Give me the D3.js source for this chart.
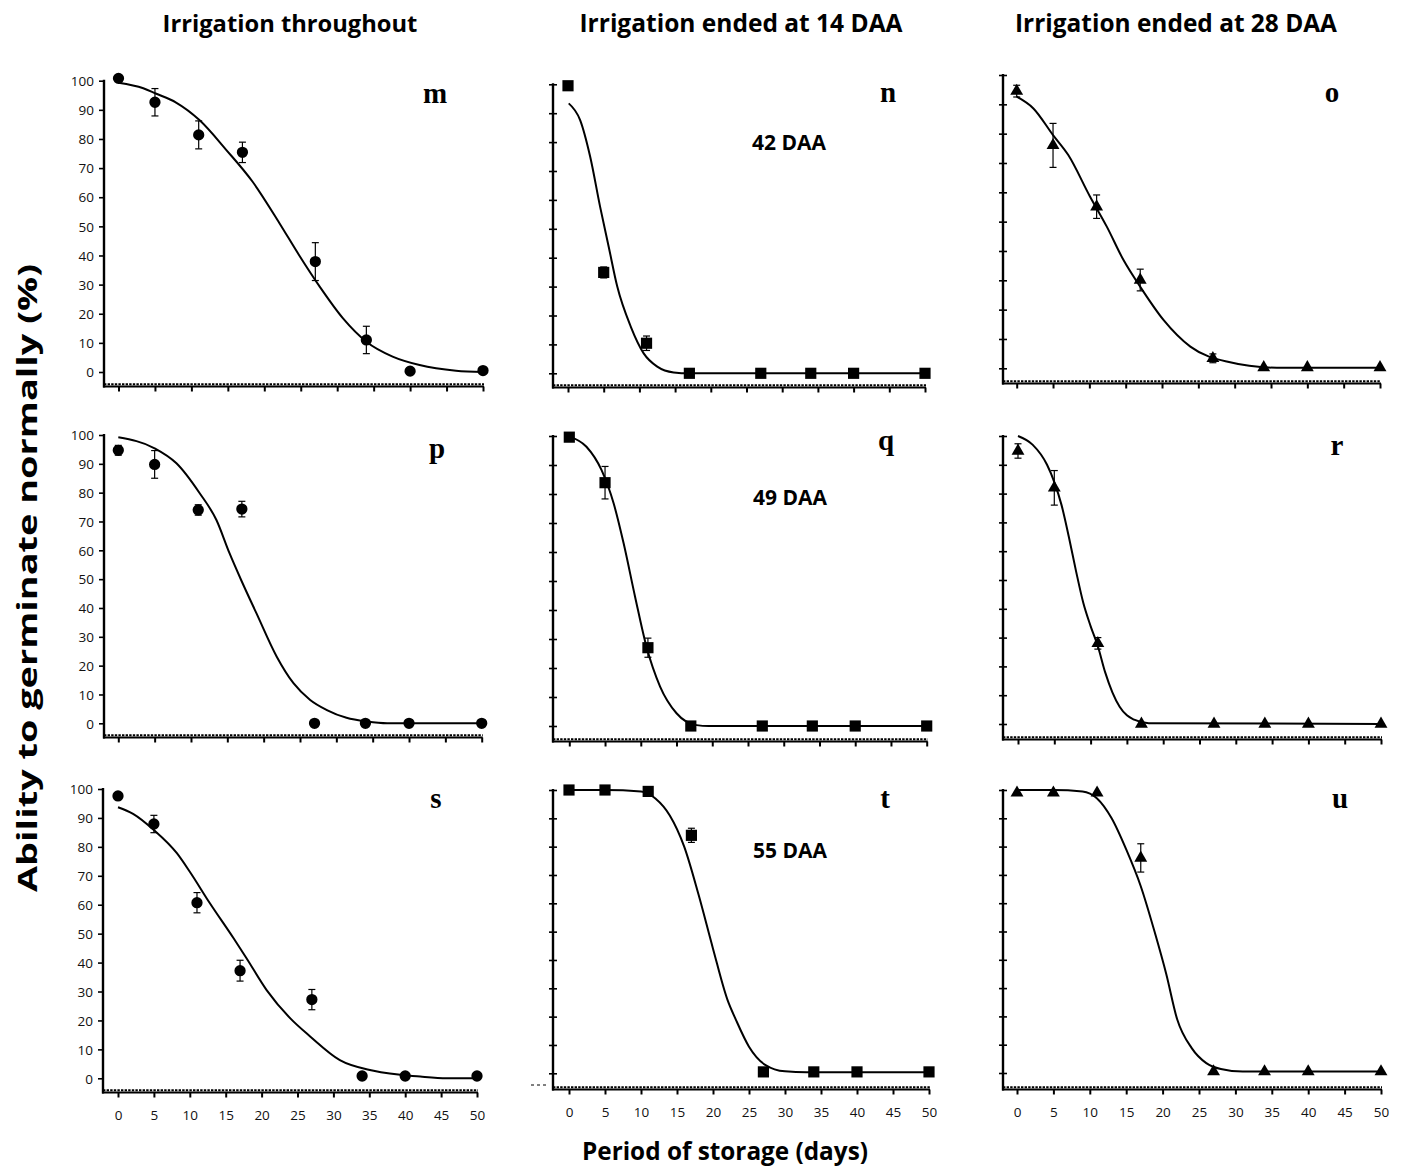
<!DOCTYPE html>
<html><head><meta charset="utf-8">
<script src="https://cdn.jsdelivr.net/npm/d3@7"></script>
<style>body{margin:0;background:#fff} svg{display:block}</style>
</head><body>
<svg id="chart" width="1408" height="1168"></svg>
<script>
// ---------------- DATA ----------------
const days = [0, 5, 11, 17, 27, 34, 40, 50];
const xTicks = [0, 5, 10, 15, 20, 25, 30, 35, 40, 45, 50];
const yTicks = [0, 10, 20, 30, 40, 50, 60, 70, 80, 90, 100];
const columnTitles = ["Irrigation throughout", "Irrigation ended at 14 DAA", "Irrigation ended at 28 DAA"];
const panelLetters = ["m", "n", "o", "p", "q", "r", "s", "t", "u"];
const daaLabels = ["42 DAA", "49 DAA", "55 DAA"];
const yTitle = "Ability to germinate normally (%)";
const xTitle = "Period of storage (days)";

// panel m
const mValues = [100.8, 92.6, 81.4, 75.4, 37.9, 11.0, 0.3, 0.5];
const mErrors = [0, 4.7, 4.8, 3.5, 6.5, 4.7, 0, 0];
const mCurveDays = [0, 3.4, 5.1, 7.9, 11.1, 14.8, 18.4, 22.1, 24.8, 27.6, 30.8, 34, 37.6, 41.3, 46.3, 50];
const mCurveValues = [99.3, 97.4, 95.6, 92.5, 86.5, 76.2, 65.3, 51, 40, 29.3, 18.4, 10.4, 5.3, 2.4, 0.45, 0];
// panel n
const nValues = [99.5, 34.9, 10.4, 0, 0, 0, 0, 0];
const nErrors = [0, 1.9, 2.5, 0, 0, 0, 0, 0];
const nCurveDays = [0.1, 1.7, 3.1, 4.5, 5.7, 6.9, 8.8, 10.6, 12.5, 14.8, 17, 50];
const nCurveValues = [93.4, 87.6, 75, 57.6, 43.8, 30, 16.1, 6.9, 2.3, 0.3, 0, 0];
// panel o
const oValues = [94.5, 76, 55.1, 30.1, 3.4, 0.3, 0.3, 0.3];
const oErrors = [2, 7.5, 4, 3.7, 1.5, 0, 0, 0];
const oCurveDays = [0, 2.3, 5, 7.1, 10.1, 12.4, 14.7, 17, 20.2, 23.9, 28.9, 35.8, 50];
const oCurveValues = [92.6, 88.6, 79.5, 72.7, 58.5, 48.3, 36.9, 27.8, 16.5, 7.4, 2.3, 0.2, 0.2];
// panel p
const pValues = [94.7, 89.8, 74, 74.3, 0, 0, 0, 0];
const pErrors = [1.7, 4.8, 1.8, 2.7, 0, 0, 0, 0];
const pCurveDays = [0, 5, 8, 11.2, 13.5, 15.3, 16.9, 19, 21.8, 24.1, 26.4, 28.7, 31.4, 34.2, 37, 50];
const pCurveValues = [99.2, 95.4, 90.2, 79.8, 70.5, 59, 49.7, 38.2, 23.1, 13.9, 8.1, 4.6, 1.9, 0.6, 0, 0];
// panel q
const qValues = [99.6, 83.9, 27, 0, 0, 0, 0, 0];
const qErrors = [0, 5.6, 3.3, 0, 0, 0, 0, 0];
const qCurveDays = [0, 2.4, 4.5, 6.2, 7.6, 9.2, 10.8, 12.7, 15, 17.8, 19.5, 50];
const qCurveValues = [99.8, 96.3, 88.3, 76.8, 63, 44.6, 27.3, 13.6, 4.4, 0.3, 0, 0];
// panel r
const rValues = [94.8, 82, 28, 0, 0, 0, 0, 0];
const rErrors = [2.5, 6, 2, 0, 0, 0, 0, 0];
const rCurveDays = [0, 2, 4, 5, 6, 7, 8, 9, 10, 11, 12, 13, 14, 15, 16, 18, 50];
const rCurveValues = [100, 97, 90, 84, 76, 65, 53, 42, 34, 27, 18, 11, 6, 3, 1.5, 0.3, 0];
// panel s
const sValues = [97.6, 87.9, 60.7, 37.2, 27.2, 0.8, 0.8, 0.8];
const sErrors = [0, 3, 3.5, 3.6, 3.5, 0, 0, 0];
const sCurveDays = [0, 2.1, 5, 8.2, 10, 12.8, 16.1, 17.9, 20.7, 24, 26.8, 30.9, 35.6, 42.1, 45.8, 50];
const sCurveValues = [93.7, 91.4, 85.8, 77.8, 71.4, 60.5, 48.4, 41.5, 30.5, 20.7, 14.4, 6.3, 2.6, 0.6, 0, 0];
// panel t
const tValues = [100, 100, 99.5, 84, 0.5, 0.5, 0.5, 0.5];
const tErrors = [0, 0, 0, 2.5, 0, 0, 0, 0];
const tCurveDays = [0, 5, 10, 12, 14, 16, 18, 20, 22, 23.2, 25, 27.3, 30, 33, 50];
const tCurveValues = [100, 100, 99.5, 97, 91, 80, 63, 44, 26, 18.8, 9.4, 2.9, 0.7, 0.4, 0.4];
// panel u
const uValues = [99, 99, 99, 76, 0.5, 0.5, 0.5, 0.5];
const uErrors = [0, 0, 0, 5, 0, 0, 0, 0];
const uCurveDays = [0, 5, 9, 11, 13, 15, 17, 19, 20.5, 22, 24, 26, 28, 31, 50];
const uCurveValues = [100, 100, 99.5, 97, 90, 79, 66, 49, 35, 19, 8.8, 3.5, 1.4, 0.5, 0.5];

// ---------------- LAYOUT ----------------
const frames = [
  {ax:104, x0:118.5, x50:483, y0:372,   y100:80.7, base:385,  lx:435, ly:103},
  {ax:553, x0:568,   x50:925, y0:373.3, y100:84.3, base:386,  lx:888, ly:102},
  {ax:1003,x0:1016.7,x50:1380,y0:368.3, y100:75,   base:382,  lx:1332,ly:102},
  {ax:104, x0:118.3, x50:481.7,y0:723.3,y100:435,  base:736,  lx:437, ly:458},
  {ax:553, x0:569.3, x50:926.7,y0:726,  y100:436,  base:740,  lx:886, ly:450},
  {ax:1003,x0:1018,  x50:1381,y0:724,   y100:436,  base:738,  lx:1337,ly:455},
  {ax:103, x0:118,   x50:477, y0:1078.3,y100:789,  base:1091, lx:436, ly:808},
  {ax:553, x0:569,   x50:929, y0:1073.3,y100:790,  base:1088, lx:885, ly:808},
  {ax:1003,x0:1017,  x50:1381,y0:1073,  y100:790,  base:1088, lx:1340,ly:808}
];
const daaPos = [[789, 150], [790, 505], [790, 858]];

const panelData = [
  [mValues, mErrors, mCurveDays, mCurveValues, d3.symbolCircle],
  [nValues, nErrors, nCurveDays, nCurveValues, d3.symbolSquare],
  [oValues, oErrors, oCurveDays, oCurveValues, d3.symbolTriangle],
  [pValues, pErrors, pCurveDays, pCurveValues, d3.symbolCircle],
  [qValues, qErrors, qCurveDays, qCurveValues, d3.symbolSquare],
  [rValues, rErrors, rCurveDays, rCurveValues, d3.symbolTriangle],
  [sValues, sErrors, sCurveDays, sCurveValues, d3.symbolCircle],
  [tValues, tErrors, tCurveDays, tCurveValues, d3.symbolSquare],
  [uValues, uErrors, uCurveDays, uCurveValues, d3.symbolTriangle]
];

const svg = d3.select("#chart");
const SANS = "'Open Sans', 'DejaVu Sans', sans-serif";

function fitText(sel, target) {
  const w = sel.node().getComputedTextLength();
  const fs = parseFloat(sel.attr("font-size"));
  sel.attr("font-size", (fs * target / w).toFixed(2));
}

panelData.forEach((pd, i) => {
  const [vals, errs, cDays, cVals, sym] = pd;
  const f = frames[i];
  const col = i % 3, row = Math.floor(i / 3);
  const x = d3.scaleLinear().domain([0, 50]).range([f.x0, f.x50]);
  const y = d3.scaleLinear().domain([0, 100]).range([f.y0, f.y100]);
  const g = svg.append("g");

  // y axis
  const yAxis = d3.axisLeft(y).tickValues(yTicks)
    .tickSize(col === 0 ? 5 : 4)
    .tickFormat(col === 0 ? d3.format("d") : () => "");
  const ya = g.append("g").attr("transform", `translate(${f.ax},0)`).call(yAxis);
  ya.select(".domain").remove();
  ya.selectAll(".tick line").attr("stroke", "#000").attr("stroke-width", 1.6)
    .attr("x1", col === 0 ? 0 : 4);
  ya.selectAll(".tick text").attr("font-family", SANS).attr("font-size", 13.5)
    .attr("fill", "#111").attr("x", -10).attr("dy", "0.35em");
  g.append("line").attr("x1", f.ax).attr("x2", f.ax)
    .attr("y1", f.y100 - 1).attr("y2", f.base + 2.5)
    .attr("stroke", "#000").attr("stroke-width", 2.4);

  // x axis (ticks below baseline)
  const xAxis = d3.axisBottom(x).tickValues(xTicks).tickSize(5)
    .tickFormat(row === 2 ? d3.format("d") : () => "");
  const xa = g.append("g").attr("transform", `translate(0,${f.base + 1.5})`).call(xAxis);
  xa.select(".domain").remove();
  xa.selectAll(".tick line").attr("stroke", "#000").attr("stroke-width", 2);
  xa.selectAll(".tick text").attr("font-family", SANS).attr("font-size", 13.5)
    .attr("fill", "#111").attr("y", 27.5).attr("dy", 0);
  // baseline: solid line + dotted line on top
  g.append("line").attr("x1", f.ax - 1).attr("x2", f.x50 + 1)
    .attr("y1", f.base + 1.5).attr("y2", f.base + 1.5)
    .attr("stroke", "#000").attr("stroke-width", 2.2);
  g.append("line").attr("x1", f.ax).attr("x2", f.x50 + 1)
    .attr("y1", f.base - 0.8).attr("y2", f.base - 0.8)
    .attr("stroke", "#000").attr("stroke-width", 2).attr("stroke-dasharray", "2.4,1.2");

  // fitted curve
  const curvePts = cDays.map((d, k) => [d, cVals[k]]);
  g.append("path").datum(curvePts)
    .attr("d", d3.line().x(d => x(d[0])).y(d => y(d[1])).curve(d3.curveMonotoneX))
    .attr("fill", "none").attr("stroke", "#000").attr("stroke-width", 2);

  // error bars
  days.forEach((d, k) => {
    const e = errs[k];
    if (!e) return;
    const cx = x(d), yt = y(vals[k] + e), yb = y(vals[k] - e);
    g.append("line").attr("x1", cx).attr("x2", cx).attr("y1", yt).attr("y2", yb)
      .attr("stroke", "#000").attr("stroke-width", 1.2);
    [yt, yb].forEach(yy => g.append("line").attr("x1", cx - 3.5).attr("x2", cx + 3.5)
      .attr("y1", yy).attr("y2", yy).attr("stroke", "#000").attr("stroke-width", 1.2));
  });

  // markers
  const size = sym === d3.symbolCircle ? 100 : sym === d3.symbolSquare ? 125 : 72;
  g.selectAll("path.mk").data(days).enter().append("path").attr("class", "mk")
    .attr("d", d3.symbol().type(sym).size(size))
    .attr("transform", (d, k) => `translate(${x(d)},${y(vals[k])})`)
    .attr("fill", "#000");

  // panel letter
  g.append("text").attr("x", f.lx).attr("y", f.ly).attr("text-anchor", "middle")
    .attr("font-family", "'Liberation Serif', 'Times New Roman', serif")
    .attr("font-weight", "bold").attr("font-size", 29).text(panelLetters[i]);

  // DAA label in middle column
  if (col === 1) {
    g.append("text").attr("x", daaPos[row][0]).attr("y", daaPos[row][1])
      .attr("text-anchor", "middle").attr("font-family", SANS)
      .attr("font-weight", "bold").attr("font-size", 21).text(daaLabels[row]);
  }
  // small dashed stub left of the baseline in panel t
  if (i === 7) {
    g.append("line").attr("x1", 531).attr("x2", 549).attr("y1", f.base - 3).attr("y2", f.base - 3)
      .attr("stroke", "#000").attr("stroke-width", 1).attr("stroke-dasharray", "3,3");
  }
});

// column titles
const titleCx = [290, 741, 1176];
const titleW = [255, 323, 322];
columnTitles.forEach((t, c) => {
  const tx = svg.append("text").attr("x", titleCx[c]).attr("y", 32).attr("text-anchor", "middle")
    .attr("font-family", SANS).attr("font-weight", "bold").attr("font-size", 20).text(t);
  fitText(tx, titleW[c]);
});

// axis titles
svg.append("text").attr("transform", "translate(37,578) rotate(-90)")
  .attr("text-anchor", "middle").attr("font-family", SANS).attr("font-weight", "bold")
  .attr("font-size", 26).attr("textLength", 628).attr("lengthAdjust", "spacingAndGlyphs")
  .text(yTitle);
const xt = svg.append("text").attr("x", 725).attr("y", 1160).attr("text-anchor", "middle")
  .attr("font-family", SANS).attr("font-weight", "bold").attr("font-size", 21).text(xTitle);
fitText(xt, 286);
</script>
</body></html>
